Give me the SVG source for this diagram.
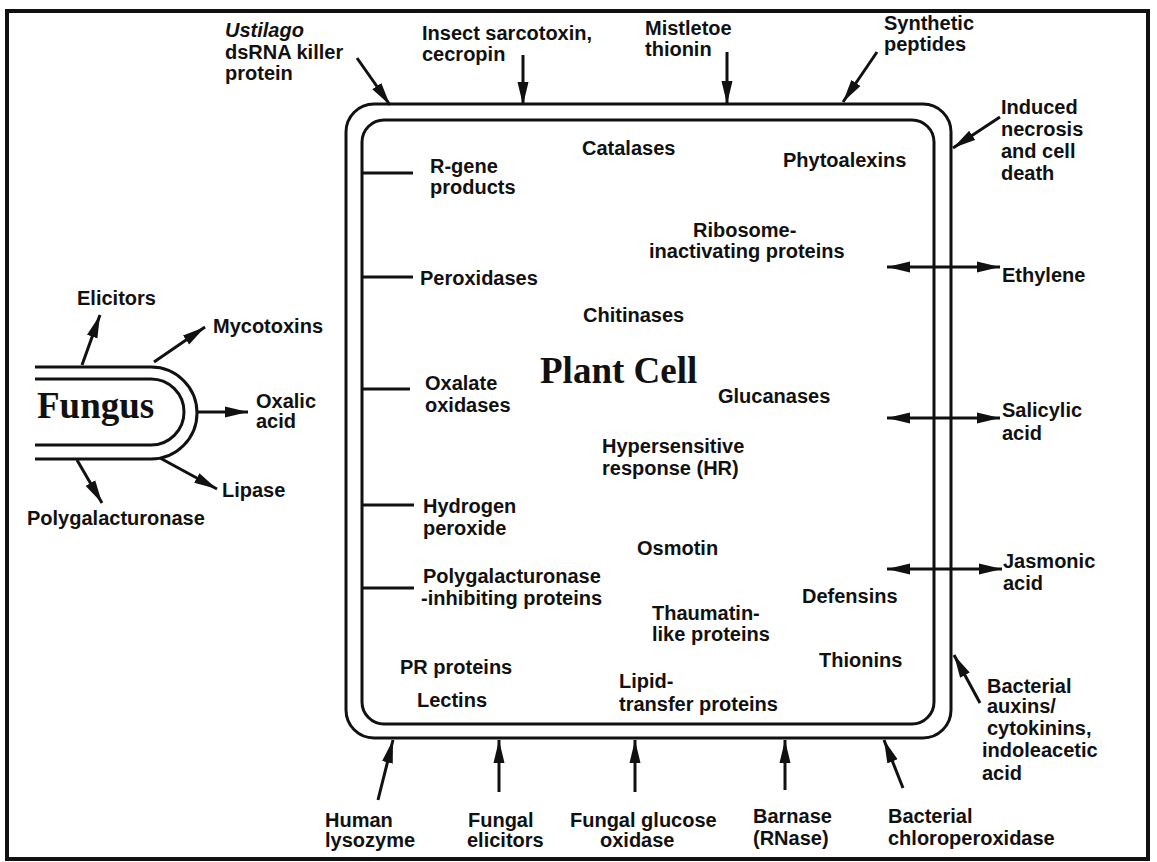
<svg xmlns="http://www.w3.org/2000/svg" width="1157" height="862" viewBox="0 0 1157 862">
<style>
text{font-family:"Liberation Sans",Arial,sans-serif;font-weight:bold;font-size:20px;fill:#111}
text.serif{font-family:"Liberation Serif","Times New Roman",serif;font-weight:bold}
text.big{font-size:36px}
text.it{font-style:italic}
.ln{stroke:#111;stroke-width:3;fill:none}
.ar{stroke:#111;stroke-width:3;fill:none;marker-end:url(#ah)}
.dar{stroke:#111;stroke-width:3;fill:none;marker-end:url(#ah);marker-start:url(#ah)}
</style>
<defs>
<marker id="ah" markerUnits="userSpaceOnUse" markerWidth="26" markerHeight="14" refX="23" refY="6" orient="auto-start-reverse">
<path d="M0,0.5 L23,6 L0,11.5 Z" fill="#111"/>
</marker>
</defs>
<rect x="7" y="11" width="1141" height="848" fill="none" stroke="#111" stroke-width="4"/>
<g id="plant-cell">
<rect x="346" y="104" width="605" height="634" rx="28" class="ln"/>
<rect x="362" y="120" width="572" height="604" rx="22" class="ln"/>
<text class="serif big" x="540" y="383" style="font-size:37px">Plant Cell</text>
</g>
<g id="fungus">
<path class="ln" d="M35,367 H151 A46,46 0 0 1 151,459 H35"/>
<path class="ln" d="M35,379 H151 A33,33 0 0 1 151,445 H35"/>
<text class="serif big" x="37" y="418" style="font-size:37px">Fungus</text>
</g>
<g id="connectors">
<line class="ar" x1="357" y1="58" x2="390" y2="105"/>
<line class="ar" x1="523" y1="55" x2="523" y2="105"/>
<line class="ar" x1="727" y1="52" x2="727" y2="104"/>
<line class="ar" x1="877" y1="52" x2="843" y2="102"/>
<line class="ar" x1="1000" y1="117" x2="953" y2="148"/>
<line class="dar" x1="887" y1="267" x2="1000" y2="267"/>
<line class="dar" x1="887" y1="418" x2="1000" y2="418"/>
<line class="dar" x1="887" y1="569" x2="1002" y2="569"/>
<line class="ar" x1="980" y1="703" x2="954" y2="655"/>
<line class="ar" x1="903" y1="788" x2="884" y2="740"/>
<line class="ar" x1="785" y1="790" x2="785" y2="740"/>
<line class="ar" x1="635" y1="792" x2="635" y2="740"/>
<line class="ar" x1="499" y1="792" x2="499" y2="740"/>
<line class="ar" x1="378" y1="800" x2="393" y2="740"/>
<line class="ar" x1="82" y1="365" x2="100" y2="315"/>
<line class="ar" x1="154" y1="362" x2="205" y2="327"/>
<line class="ar" x1="197" y1="412" x2="248" y2="412"/>
<line class="ar" x1="160" y1="458" x2="217" y2="489"/>
<line class="ar" x1="77" y1="460" x2="102" y2="503"/>
<line class="ln" x1="362" y1="173" x2="413" y2="173"/>
<line class="ln" x1="362" y1="277" x2="413" y2="277"/>
<line class="ln" x1="362" y1="389" x2="410" y2="389"/>
<line class="ln" x1="362" y1="505" x2="414" y2="505"/>
<line class="ln" x1="362" y1="588" x2="414" y2="588"/>
</g>
<g id="n-ustilago"><text x="225" y="37" class="it">Ustilago</text><text x="225" y="59">dsRNA killer</text><text x="225" y="80">protein</text></g>
<g id="n-insect"><text x="422" y="40">Insect sarcotoxin,</text><text x="422" y="61">cecropin</text></g>
<g id="n-mistletoe"><text x="645" y="35">Mistletoe</text><text x="645" y="56">thionin</text></g>
<g id="n-synthetic"><text x="884" y="30">Synthetic</text><text x="884" y="51">peptides</text></g>
<g id="n-induced"><text x="1001" y="114">Induced</text><text x="1001" y="136">necrosis</text><text x="1001" y="158">and cell</text><text x="1001" y="180">death</text></g>
<g id="n-catalases"><text x="582" y="155">Catalases</text></g>
<g id="n-rgene"><text x="430" y="173">R-gene</text><text x="430" y="194">products</text></g>
<g id="n-phytoalexins"><text x="783" y="167">Phytoalexins</text></g>
<g id="n-rip"><text x="693" y="237">Ribosome-</text><text x="649" y="258">inactivating proteins</text></g>
<g id="n-peroxidases"><text x="420" y="285">Peroxidases</text></g>
<g id="n-ethylene"><text x="1002" y="282">Ethylene</text></g>
<g id="n-chitinases"><text x="583" y="322">Chitinases</text></g>
<g id="n-oxalate"><text x="425" y="390">Oxalate</text><text x="425" y="412">oxidases</text></g>
<g id="n-glucanases"><text x="718" y="403">Glucanases</text></g>
<g id="n-salicylic"><text x="1002" y="417">Salicylic</text><text x="1002" y="440">acid</text></g>
<g id="n-hr"><text x="602" y="453">Hypersensitive</text><text x="602" y="475">response (HR)</text></g>
<g id="n-hydrogen"><text x="423" y="513">Hydrogen</text><text x="423" y="535">peroxide</text></g>
<g id="n-osmotin"><text x="637" y="555">Osmotin</text></g>
<g id="n-jasmonic"><text x="1003" y="568">Jasmonic</text><text x="1003" y="590">acid</text></g>
<g id="n-pgip"><text x="423" y="583">Polygalacturonase</text><text x="421" y="605">-inhibiting proteins</text></g>
<g id="n-defensins"><text x="802" y="603">Defensins</text></g>
<g id="n-thaumatin"><text x="652" y="620">Thaumatin-</text><text x="652" y="641">like proteins</text></g>
<g id="n-thionins"><text x="819" y="667">Thionins</text></g>
<g id="n-pr"><text x="400" y="674">PR proteins</text></g>
<g id="n-lipid"><text x="619" y="688">Lipid-</text><text x="619" y="711">transfer proteins</text></g>
<g id="n-lectins"><text x="417" y="707">Lectins</text></g>
<g id="n-auxins"><text x="987" y="693">Bacterial</text><text x="987" y="713">auxins/</text><text x="987" y="735">cytokinins,</text><text x="982" y="757">indoleacetic</text><text x="982" y="780">acid</text></g>
<g id="n-lysozyme"><text x="325" y="827">Human</text><text x="325" y="847">lysozyme</text></g>
<g id="n-fungal-elicitors"><text x="468" y="827">Fungal</text><text x="467" y="847">elicitors</text></g>
<g id="n-glucose-oxidase"><text x="570" y="827">Fungal glucose</text><text x="600" y="847">oxidase</text></g>
<g id="n-barnase"><text x="753" y="823">Barnase</text><text x="753" y="845">(RNase)</text></g>
<g id="n-chloroperoxidase"><text x="888" y="823">Bacterial</text><text x="888" y="845">chloroperoxidase</text></g>
<g id="n-elicitors"><text x="77" y="305">Elicitors</text></g>
<g id="n-mycotoxins"><text x="213" y="333">Mycotoxins</text></g>
<g id="n-oxalic"><text x="256" y="408">Oxalic</text><text x="256" y="428">acid</text></g>
<g id="n-lipase"><text x="222" y="497">Lipase</text></g>
<g id="n-pg"><text x="27" y="525">Polygalacturonase</text></g>
</svg>
